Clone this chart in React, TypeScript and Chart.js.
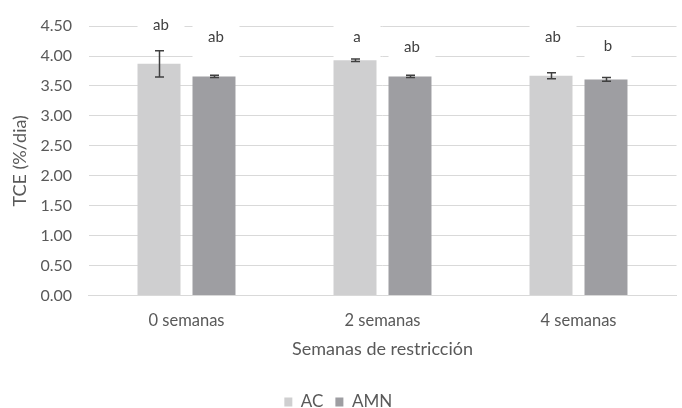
import React, { useEffect, useRef } from "react";
import { Chart, registerables } from "chart.js";

Chart.register(...registerables);

const categories = ["0 semanas", "2 semanas", "4 semanas"];
const seriesNames = ["AC", "AMN"];
const acValues = [3.87, 3.93, 3.67];
const amnValues = [3.66, 3.66, 3.61];
const acErrors = [0.22, 0.02, 0.05];
const amnErrors = [0.02, 0.02, 0.03];
const acLetters = ["ab", "a", "ab"];
const amnLetters = ["ab", "ab", "b"];
const acLetterLevel = [4.51, 4.32, 4.31];
const amnLetterLevel = [4.31, 4.14, 4.17];
const yTicksMin = 0;
const yTicksMax = 4.5;
const yTicksStep = 0.5;

const FONT = "Lato, 'Open Sans', sans-serif";

const annotatePlugin = {
  id: "annotate",
  afterDatasetsDraw(chart: any) {
    const ctx = chart.ctx;
    const y = chart.scales.y;
    const errs = [acErrors, amnErrors];
    const vals = [acValues, amnValues];
    const letters = [acLetters, amnLetters];
    const levels = [acLetterLevel, amnLetterLevel];
    ctx.save();
    for (let d = 0; d < 2; d++) {
      const meta = chart.getDatasetMeta(d);
      meta.data.forEach((bar: any, i: number) => {
        const cx = bar.x + 2;
        const cy = y.getPixelForValue(levels[d][i]);
        const w = bar.width + 4;
        ctx.fillStyle = "#ffffff";
        ctx.fillRect(cx - w / 2, cy - 16, w, 38);
        ctx.fillStyle = "#404040";
        ctx.font = `15px ${FONT}`;
        ctx.textAlign = "center";
        ctx.textBaseline = "middle";
        ctx.fillText(letters[d][i], cx, cy);
      });
    }
    ctx.strokeStyle = "#404040";
    ctx.lineWidth = 1.5;
    for (let d = 0; d < 2; d++) {
      const meta = chart.getDatasetMeta(d);
      meta.data.forEach((bar: any, i: number) => {
        const x = Math.round(bar.x) + 0.5;
        const top = y.getPixelForValue(vals[d][i] + errs[d][i]);
        const bot = y.getPixelForValue(vals[d][i] - errs[d][i]);
        ctx.beginPath();
        ctx.moveTo(x, top);
        ctx.lineTo(x, bot);
        ctx.moveTo(x - 4.5, top);
        ctx.lineTo(x + 4.5, top);
        ctx.moveTo(x - 4.5, bot);
        ctx.lineTo(x + 4.5, bot);
        ctx.stroke();
      });
    }
    ctx.restore();
  },
};

export default function App() {
  const ref = useRef<HTMLCanvasElement | null>(null);
  useEffect(() => {
    if (!ref.current) return;
    const chart = new Chart(ref.current, {
      type: "bar",
      data: {
        labels: categories,
        datasets: [
          {
            label: seriesNames[0],
            data: acValues,
            backgroundColor: "#cfcfd0",
            categoryPercentage: 0.561,
            barPercentage: 0.782,
          },
          {
            label: seriesNames[1],
            data: amnValues,
            backgroundColor: "#9e9ea2",
            categoryPercentage: 0.561,
            barPercentage: 0.782,
          },
        ],
      },
      options: {
        responsive: false,
        animation: false,
        layout: { padding: { top: 13.1, right: 5.5, left: 0, bottom: -12.5 } },
        plugins: {
          legend: {
            position: "bottom",
            labels: {
              boxWidth: 8,
              boxHeight: 9,
              padding: 12,
              color: "#595959",
              font: { family: FONT, size: 17 },
            },
          },
          tooltip: { enabled: false },
        },
        scales: {
          x: {
            afterFit: (s: any) => {
              s.height = 86;
            },
            grid: { display: false, drawTicks: false },
            border: { display: true, color: "#d9d9d9", width: 1 },
            ticks: {
              color: "#595959",
              padding: 15.6,
              font: { family: FONT, size: 16.5 },
            },
            title: {
              display: true,
              text: "Semanas de restricción",
              color: "#595959",
              font: { family: FONT, size: 18 },
              padding: { top: 0, bottom: 21.7 },
            },
          },
          y: {
            min: yTicksMin,
            max: yTicksMax,
            afterFit: (s: any) => {
              s.width = 88.5;
            },
            grid: { color: "#d9d9d9", lineWidth: 1, drawTicks: false },
            border: { display: false },
            ticks: {
              stepSize: yTicksStep,
              color: "#595959",
              padding: 16.5,
              font: { family: FONT, size: 16 },
              callback: (v: any) => Number(v).toFixed(2),
            },
            title: {
              display: true,
              text: "TCE (%/dia)",
              color: "#595959",
              font: { family: FONT, size: 18 },
              padding: { top: 9.2, bottom: 0 },
            },
          },
        },
      },
      plugins: [annotatePlugin],
    });
    return () => chart.destroy();
  }, []);
  return (
    <div style={{ position: "fixed", left: 0, top: 0, width: 682, height: 408, background: "#fff", overflow: "hidden" }}>
      <canvas ref={ref} width={682} height={408} />
    </div>
  );
}
